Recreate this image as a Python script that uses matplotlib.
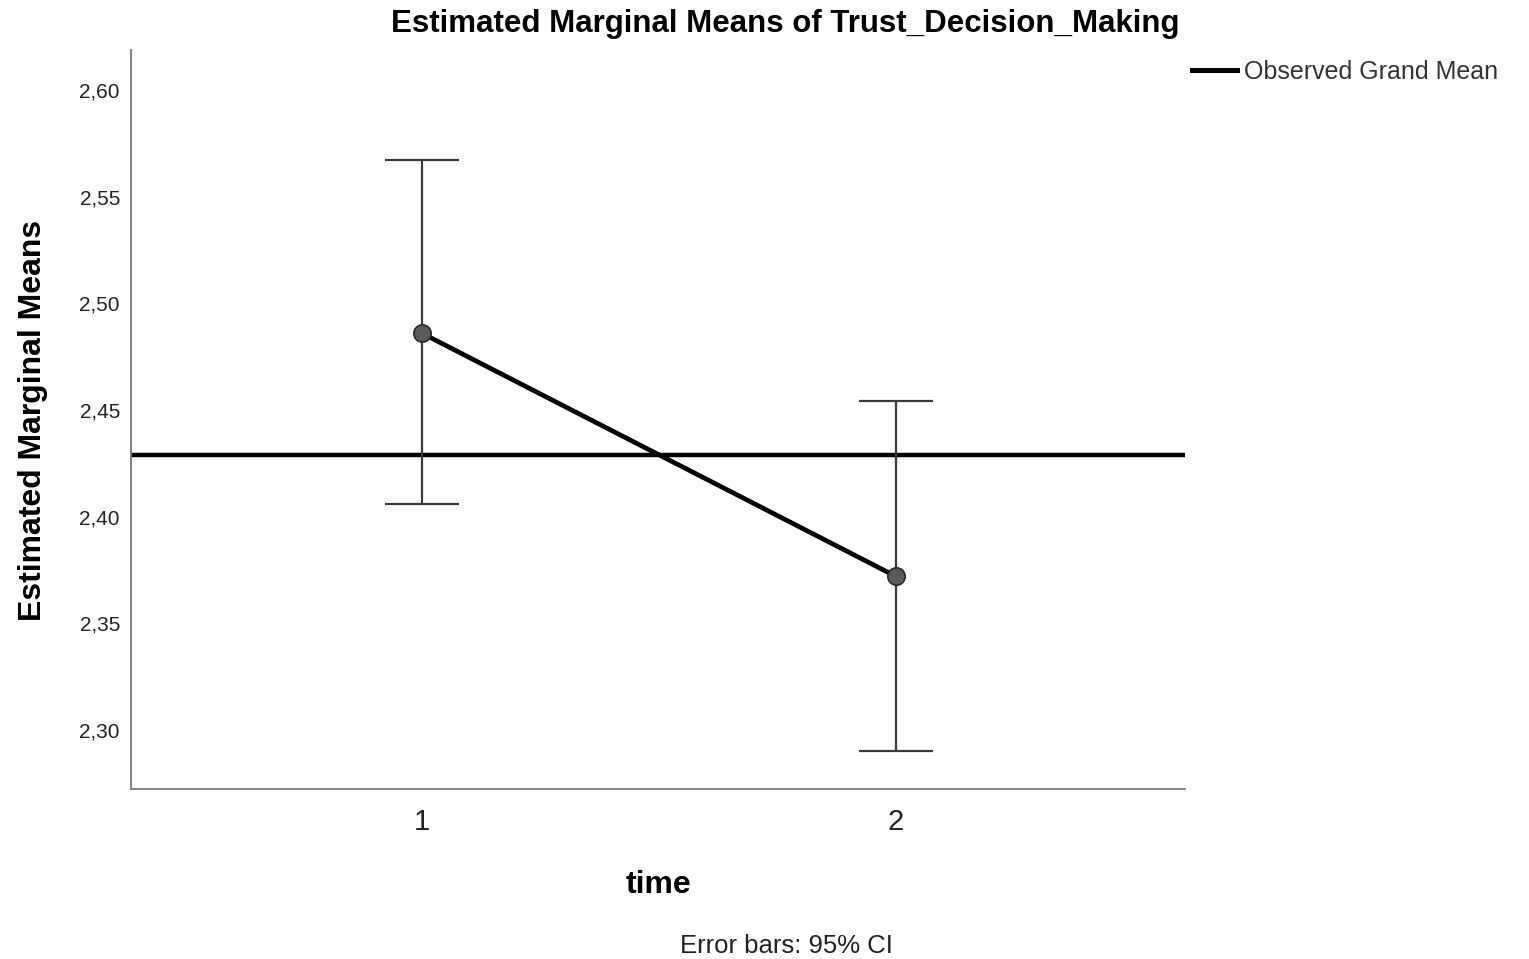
import matplotlib
matplotlib.use("Agg")
import matplotlib.pyplot as plt
import numpy as np

plt.rcParams['font.family'] = ['Liberation Sans', 'DejaVu Sans']

# Data
time_labels = ["1", "2"]
means = [2.486, 2.372]
ci_lower = [2.406, 2.290]
ci_upper = [2.567, 2.454]
grand_mean = 2.429
y_ticks = [2.30, 2.35, 2.40, 2.45, 2.50, 2.55, 2.60]

fig = plt.figure(figsize=(15.29, 9.59), dpi=100)
ax = fig.add_axes([131/1529, 1 - 789/959, (1185-131)/1529, (789-50)/959])

x = np.arange(1, len(means) + 1)
m = np.array(means)
yerr = np.vstack([m - np.array(ci_lower), np.array(ci_upper) - m])

ax.axhline(grand_mean, color='black', lw=3.2, zorder=2, label='Observed Grand Mean')
ax.errorbar(x, m, yerr=yerr, fmt='none', ecolor='#3a3a3a', elinewidth=1.6,
            capsize=26.5, capthick=1.6, zorder=3)
ax.plot(x, m, color='black', lw=3.4, zorder=4)
ax.plot(x, m, 'o', ms=12.5, markerfacecolor='#5a5a5a', markeredgecolor='#2a2a2a',
        markeredgewidth=1.2, zorder=5)

ax.set_xlim(0.386, 2.61)
ax.set_ylim(2.2723, 2.6188)
ax.set_xticks(x)
ax.set_xticklabels(time_labels, fontsize=21, color='#222222')
ax.set_yticks(y_ticks)
ax.set_yticklabels([f"{v:.2f}".replace('.', ',') for v in y_ticks], fontsize=15, color='#222222')
ax.tick_params(axis='both', length=0)
ax.tick_params(axis='y', pad=8)
ax.tick_params(axis='x', pad=14)

for s in ['top', 'right']:
    ax.spines[s].set_visible(False)
for s in ['left', 'bottom']:
    ax.spines[s].set_color('#777777')
    ax.spines[s].set_linewidth(1.3)

ax.set_xlabel('time', fontsize=23, fontweight='bold', labelpad=0)
ax.xaxis.set_label_coords(658/1529, 1 - 885/959, transform=fig.transFigure)
ax.xaxis.label.set_va('center')
ax.set_ylabel('Estimated Marginal Means', fontsize=23, fontweight='bold')
ax.yaxis.set_label_coords(33/1529, 1 - 420/959, transform=fig.transFigure)
ax.yaxis.label.set_va('center')

fig.text(785/1529, 1 - 24/959, 'Estimated Marginal Means of Trust_Decision_Making',
         fontsize=22.5, fontweight='bold', ha='center', va='center')
fig.text(786/1529, 1 - 946/959, 'Error bars: 95% CI', fontsize=18.5, ha='center',
         va='center', color='#222222')

leg = fig.legend(loc='upper left', bbox_to_anchor=(1182/1529, 1 - 50/959), frameon=False,
                 fontsize=18, handlelength=1.8, handletextpad=0.3, borderaxespad=0)
for t in leg.get_texts():
    t.set_color('#333333')
for h in leg.get_lines():
    h.set_linewidth(3.6)

fig.savefig('out.png', dpi=100)
